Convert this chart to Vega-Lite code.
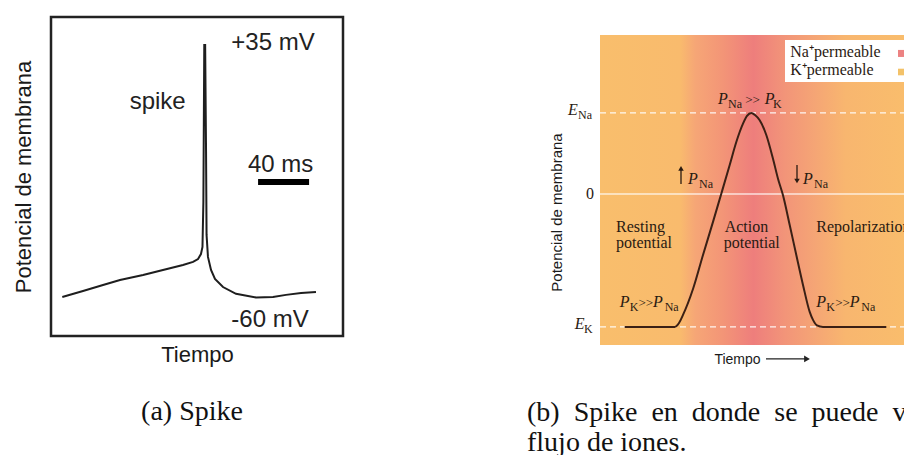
{
  "$schema": "https://vega.github.io/schema/vega-lite/v6.json",
  "background": "white",
  "padding": {"left": 10, "top": 15, "right": 0, "bottom": 0},
  "bounds": "flush",
  "spacing": 257,
  "config": {"view": {"stroke": null}, "axis": {"grid": false}},
  "datasets": {
    "spikeA": [
      {"t": 8.86, "v": -61.2}, {"t": 25.1, "v": -58.9}, {"t": 40.8, "v": -56.6}, {"t": 54.1, "v": -54.7},
      {"t": 72.2, "v": -52.8}, {"t": 87.8, "v": -50.9}, {"t": 103.5, "v": -49.0}, {"t": 111.4, "v": -47.8},
      {"t": 115.3, "v": -46.7}, {"t": 117.6, "v": -44.8}, {"t": 118.8, "v": -42.1}, {"t": 119.5, "v": -24.9},
      {"t": 120.2, "v": 35}, {"t": 120.9, "v": 35}, {"t": 121.6, "v": -5.8}, {"t": 122.0, "v": -37.5},
      {"t": 123.1, "v": -45.9}, {"t": 125.5, "v": -50.9}, {"t": 128.6, "v": -54.3}, {"t": 134.9, "v": -57.4},
      {"t": 145.1, "v": -60.0}, {"t": 160.8, "v": -61.4}, {"t": 174.1, "v": -61.2}, {"t": 184.3, "v": -60.4},
      {"t": 196.1, "v": -59.7}, {"t": 207.8, "v": -59.3}
    ],
    "barA": [{"t": 162.4, "t2": 202.4, "v": -17.3}],
    "textA": [
      {"t": 141.4, "v": 33.0, "label": "+35 mV"},
      {"t": 61.7, "v": 10.7, "label": "spike"},
      {"t": 154.5, "v": -13.5, "label": "40 ms"},
      {"t": 141.4, "v": -72.6, "label": "-60 mV"}
    ],
    "bgB": [{"x": 0, "x2": 3.07, "y": -111.9, "y2": 117.8}],
    "legBox": [{"x": 1.85, "x2": 3.2, "y": 83.0, "y2": 114.1}],
    "legNa": [{"x": 2.98, "x2": 3.1, "y": 101.5, "y2": 106.7}],
    "legK": [{"x": 2.98, "x2": 3.1, "y": 87.9, "y2": 92.8}],
    "zeroB": [{"x": 0, "x2": 3.07, "y": 0}],
    "dashB": [{"x": 0, "x2": 3.07, "y": 60}, {"x": 0, "x2": 3.07, "y": -98.5}],
    "curveB": [
      {"x": 0.247, "y": -98.5}, {"x": 0.747, "y": -98.5}, {"x": 0.79, "y": -95.6}, {"x": 0.83, "y": -89.6},
      {"x": 0.93, "y": -70.4}, {"x": 1.03, "y": -45.2}, {"x": 1.13, "y": -20.7}, {"x": 1.213, "y": 0.2},
      {"x": 1.297, "y": 21.5}, {"x": 1.363, "y": 38.5}, {"x": 1.43, "y": 52.1}, {"x": 1.47, "y": 57.8},
      {"x": 1.513, "y": 60}, {"x": 1.55, "y": 58.5}, {"x": 1.597, "y": 54.6}, {"x": 1.663, "y": 43.7},
      {"x": 1.73, "y": 26.1}, {"x": 1.78, "y": 11.3}, {"x": 1.83, "y": -1.0}, {"x": 1.897, "y": -23.0},
      {"x": 1.963, "y": -45.2}, {"x": 2.03, "y": -67.4}, {"x": 2.097, "y": -87.4}, {"x": 2.13, "y": -93.3},
      {"x": 2.17, "y": -97.4}, {"x": 2.23, "y": -98.5}, {"x": 2.863, "y": -98.5}
    ],
    "serifB": [
      {"x": 0.16, "y": -27.9, "label": "Resting"},
      {"x": 0.16, "y": -39.9, "label": "potential"},
      {"x": 1.247, "y": -27.9, "label": "Action"},
      {"x": 1.237, "y": -39.9, "label": "potential"},
      {"x": -0.14, "y": -3.7, "label": "0"}
    ],
    "gtB": [
      {"x": 0.385, "y": -83.7, "label": ">>"},
      {"x": 2.352, "y": -83.7, "label": ">>"},
      {"x": 1.452, "y": 66.9, "label": ">>"}
    ],
    "clipB": [
      {"x": 2.163, "y": -27.9, "label": "Repolarization"},
      {"x": 1.903, "y": 101.5, "label": "Na⁺permeable"},
      {"x": 1.903, "y": 87.9, "label": "K⁺permeable"}
    ],
    "italicB": [
      {"x": 0.197, "y": -83.7, "label": "P"}, {"x": 0.53, "y": -83.7, "label": "P"},
      {"x": 2.163, "y": -83.7, "label": "P"}, {"x": 2.497, "y": -83.7, "label": "P"},
      {"x": 1.18, "y": 66.9, "label": "P"}, {"x": 1.647, "y": 66.9, "label": "P"},
      {"x": 0.88, "y": 7.6, "label": "P"}, {"x": 2.03, "y": 7.6, "label": "P"},
      {"x": -0.32, "y": 58.3, "label": "E"}, {"x": -0.253, "y": -99.8, "label": "E"}
    ],
    "subB": [
      {"x": 0.297, "y": -86.7, "label": "K"}, {"x": 0.647, "y": -86.7, "label": "Na"},
      {"x": 2.263, "y": -86.7, "label": "K"}, {"x": 2.613, "y": -86.7, "label": "Na"},
      {"x": 1.28, "y": 63.7, "label": "Na"}, {"x": 1.73, "y": 63.7, "label": "K"},
      {"x": 0.99, "y": 4.4, "label": "Na"}, {"x": 2.14, "y": 4.4, "label": "Na"},
      {"x": -0.22, "y": 55.8, "label": "Na"}, {"x": -0.16, "y": -102.7, "label": "K"}
    ],
    "arrowShaft": [
      {"x": 0.81, "y": 7.4, "y2": 18.5},
      {"x": 1.97, "y": 21.5, "y2": 10.4}
    ],
    "arrowUp": [{"x": 0.81, "y": 19.0}],
    "arrowDown": [{"x": 1.97, "y": 9.6}],
    "timeRule": [{"x": 1.66, "x2": 2.06, "y": -122.2}],
    "timeHead": [{"x": 2.07, "y": -122.2}]
  },
  "hconcat": [
    {
      "width": 292,
      "height": 319,
      "view": {"stroke": "#222222", "strokeWidth": 2.5},
      "title": {"text": "(a) Spike", "orient": "bottom", "frame": "group", "anchor": "middle", "dx": -5, "offset": 33,
        "font": "Liberation Serif", "fontSize": 28, "fontWeight": "normal", "color": "#111111"},
      "encoding": {
        "x": {"field": "t", "type": "quantitative", "scale": {"domain": [0, 229], "nice": false, "zero": false},
          "axis": {"title": "Tiempo", "labels": false, "ticks": false, "domain": false, "grid": false,
            "titleFont": "Liberation Sans", "titleFontSize": 22, "titleFontWeight": "normal", "titleColor": "#1a1a1a", "titlePadding": 8}},
        "y": {"field": "v", "type": "quantitative", "scale": {"domain": [-76.1, 45.7], "nice": false, "zero": false},
          "axis": {"title": "Potencial de membrana", "labels": false, "ticks": false, "domain": false, "grid": false,
            "titleFont": "Liberation Sans", "titleFontSize": 22, "titleFontWeight": "normal", "titleColor": "#1a1a1a", "titlePadding": 16}}
      },
      "layer": [
        {"data": {"name": "spikeA"}, "mark": {"type": "line", "color": "#1e1e1e", "strokeWidth": 2}},
        {"data": {"name": "barA"}, "mark": {"type": "rule", "color": "#000000", "strokeWidth": 6}, "encoding": {"x2": {"field": "t2"}}},
        {"data": {"name": "textA"}, "mark": {"type": "text", "font": "Liberation Sans", "fontSize": 24, "align": "left", "baseline": "alphabetic", "color": "#222222"},
          "encoding": {"text": {"field": "label"}}}
      ]
    },
    {
      "width": 307,
      "height": 328,
      "view": {"stroke": null},
      "title": {"text": ["(b)\u2002Spike\u2002en\u2002donde\u2002se\u2002puede\u2002v", "flujo de iones."], "orient": "bottom", "frame": "group", "anchor": "start", "align": "left", "dx": -73, "offset": 33, "lineHeight": 30,
        "font": "Liberation Serif", "fontSize": 28, "fontWeight": "normal", "color": "#111111"},
      "encoding": {
        "x": {"field": "x", "type": "quantitative", "scale": {"domain": [0, 3.07], "nice": false, "zero": false},
          "axis": {"title": "Tiempo", "titleX": 137, "labels": false, "ticks": false, "domain": false, "grid": false,
            "titleFont": "Liberation Sans", "titleFontSize": 14, "titleFontWeight": "normal", "titleColor": "#1a1a1a", "titlePadding": 7}},
        "y": {"field": "y", "type": "quantitative", "scale": {"domain": [-111.9, 131.1], "nice": false, "zero": false},
          "axis": {"title": "Potencial de membrana", "titleY": 195, "labels": false, "ticks": false, "domain": false, "grid": false,
            "titleFont": "Liberation Sans", "titleFontSize": 15, "titleFontWeight": "normal", "titleColor": "#1a1a1a", "titlePadding": 36}}
      },
      "layer": [
        {"data": {"name": "bgB"}, "mark": {"type": "rect", "fill": {"gradient": "linear", "x1": 0, "y1": 0, "x2": 1, "y2": 0,
          "stops": [
            {"offset": 0, "color": "#f9be6c"}, {"offset": 0.26, "color": "#f9bb6d"}, {"offset": 0.31, "color": "#f6a676"},
            {"offset": 0.4, "color": "#f39577"}, {"offset": 0.5, "color": "#ee7e7c"}, {"offset": 0.6, "color": "#f29479"},
            {"offset": 0.7, "color": "#f5a575"}, {"offset": 0.8, "color": "#f8b66f"}, {"offset": 1, "color": "#f9bd6c"}]}},
          "encoding": {"x2": {"field": "x2"}, "y2": {"field": "y2"}}},
        {"data": {"name": "legBox"}, "mark": {"type": "rect", "fill": "#ffffff", "clip": true}, "encoding": {"x2": {"field": "x2"}, "y2": {"field": "y2"}}},
        {"data": {"name": "legNa"}, "mark": {"type": "rect", "fill": "#ec8282", "clip": true}, "encoding": {"x2": {"field": "x2"}, "y2": {"field": "y2"}}},
        {"data": {"name": "legK"}, "mark": {"type": "rect", "fill": "#f3c269", "clip": true}, "encoding": {"x2": {"field": "x2"}, "y2": {"field": "y2"}}},
        {"data": {"name": "zeroB"}, "mark": {"type": "rule", "color": "#ffffff", "opacity": 0.75, "strokeWidth": 1.5}, "encoding": {"x2": {"field": "x2"}}},
        {"data": {"name": "dashB"}, "mark": {"type": "rule", "color": "#ffffff", "opacity": 0.9, "strokeWidth": 1.2, "strokeDash": [6, 4]}, "encoding": {"x2": {"field": "x2"}}},
        {"data": {"name": "curveB"}, "mark": {"type": "line", "color": "#3b2015", "strokeWidth": 2, "interpolate": "monotone"}},
        {"data": {"name": "serifB"}, "mark": {"type": "text", "font": "Liberation Serif", "fontSize": 16, "align": "left", "baseline": "alphabetic", "color": "#2a1a12"},
          "encoding": {"text": {"field": "label"}}},
        {"data": {"name": "gtB"}, "mark": {"type": "text", "font": "Liberation Serif", "fontSize": 13, "align": "left", "baseline": "alphabetic", "color": "#2a1a12"},
          "encoding": {"text": {"field": "label"}}},
        {"data": {"name": "clipB"}, "mark": {"type": "text", "font": "Liberation Serif", "fontSize": 16, "align": "left", "baseline": "alphabetic", "color": "#2a1a12", "clip": true},
          "encoding": {"text": {"field": "label"}}},
        {"data": {"name": "italicB"}, "mark": {"type": "text", "font": "Liberation Serif", "fontSize": 16, "fontStyle": "italic", "align": "left", "baseline": "alphabetic", "color": "#2a1a12"},
          "encoding": {"text": {"field": "label"}}},
        {"data": {"name": "subB"}, "mark": {"type": "text", "font": "Liberation Serif", "fontSize": 12, "align": "left", "baseline": "alphabetic", "color": "#2a1a12"},
          "encoding": {"text": {"field": "label"}}},
        {"data": {"name": "arrowShaft"}, "mark": {"type": "rule", "color": "#2a1a12", "strokeWidth": 1.3}, "encoding": {"y2": {"field": "y2"}}},
        {"data": {"name": "arrowUp"}, "mark": {"type": "point", "shape": "triangle-up", "filled": true, "size": 30, "color": "#2a1a12", "opacity": 1}},
        {"data": {"name": "arrowDown"}, "mark": {"type": "point", "shape": "triangle-down", "filled": true, "size": 30, "color": "#2a1a12", "opacity": 1}},
        {"data": {"name": "timeRule"}, "mark": {"type": "rule", "color": "#222222", "strokeWidth": 1.2}, "encoding": {"x2": {"field": "x2"}}},
        {"data": {"name": "timeHead"}, "mark": {"type": "point", "shape": "triangle-right", "filled": true, "size": 45, "color": "#222222", "opacity": 1}}
      ]
    }
  ]
}
